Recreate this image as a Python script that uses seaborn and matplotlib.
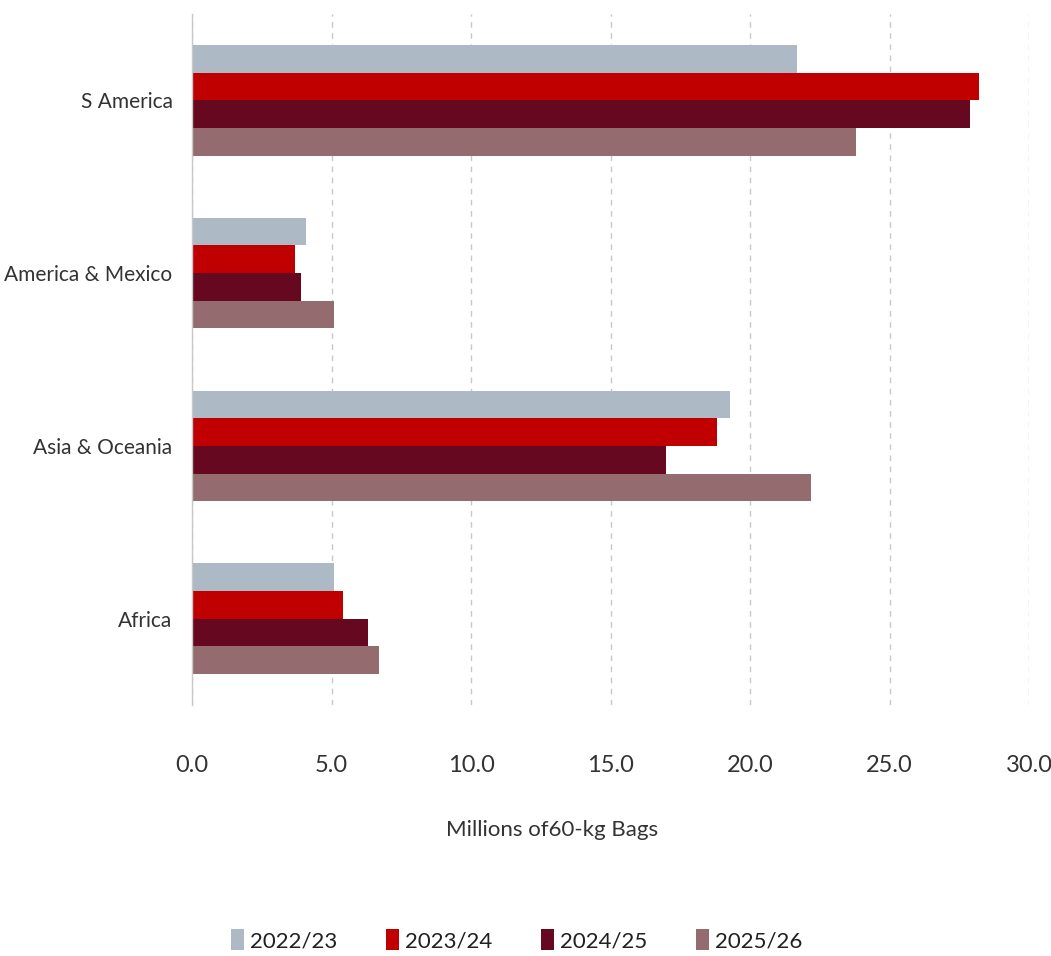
import matplotlib
matplotlib.use("Agg")
import matplotlib.pyplot as plt
import seaborn as sns
import pandas as pd
from matplotlib.patches import Patch

regions = ["S America", "America & Mexico", "Asia & Oceania", "Africa"]
seasons = ["2022/23", "2023/24", "2024/25", "2025/26"]
v_2022_23 = [21.7, 4.1, 19.3, 5.1]
v_2023_24 = [28.2, 3.7, 18.8, 5.4]
v_2024_25 = [27.9, 3.9, 17.0, 6.3]
v_2025_26 = [23.8, 5.1, 22.2, 6.7]
colors = ["#adb9c4", "#c00000", "#650820", "#946b6e"]
xticks = [0, 5, 10, 15, 20, 25, 30]

rows = []
for s, vals in zip(seasons, [v_2022_23, v_2023_24, v_2024_25, v_2025_26]):
    for r, v in zip(regions, vals):
        rows.append({"Region": r, "Season": s, "Value": v})
df = pd.DataFrame(rows)

sns.set_theme(style="white")
plt.rcParams['font.family'] = ['Lato', 'DejaVu Sans']

fig = plt.figure(figsize=(10.51, 9.56), dpi=100)
ax = fig.add_axes([192/1051, (956-705)/956, (1029-192)/1051, (705-14)/956])
sns.barplot(data=df, y="Region", x="Value", hue="Season", order=regions,
            hue_order=seasons, palette=colors, orient="h", width=0.64,
            linewidth=0, saturation=1, legend=False, ax=ax)
ax.set_xlim(0, 30)
ax.set_xticks(xticks)
ax.set_xticklabels([f"{t:.1f}" for t in xticks], fontsize=17, color="#333333")
ax.tick_params(axis="x", pad=36, length=0)
ax.tick_params(axis="y", length=0, pad=14)
for lbl in ax.get_yticklabels():
    lbl.set_fontsize(15)
    lbl.set_color("#333333")
ax.set_ylabel("")
ax.set_xlabel("Millions of60-kg Bags", fontsize=16, color="#333333")
ax.xaxis.set_label_coords(0.43, -(830 - 705) / 691, transform=ax.transAxes)
ax.xaxis.label.set_va("center")
ax.xaxis.grid(True, linestyle=(0, (4, 4)), color="#c8c8c8", linewidth=1)
ax.set_axisbelow(True)
for side in ["top", "right", "bottom"]:
    ax.spines[side].set_visible(False)
ax.spines["left"].set_color("#c8c8c8")
ax.spines["left"].set_linewidth(1)

handles = [Patch(facecolor=c, edgecolor="none", label=s) for c, s in zip(colors, seasons)]
fig.legend(handles=handles, loc="center", bbox_to_anchor=(517/1051, 1 - 940/956),
           ncol=4, frameon=False, fontsize=16, handlelength=0.55, handleheight=1.1,
           handletextpad=0.3, columnspacing=2.2, labelcolor="#202020")

fig.savefig("out.png", dpi=100)
